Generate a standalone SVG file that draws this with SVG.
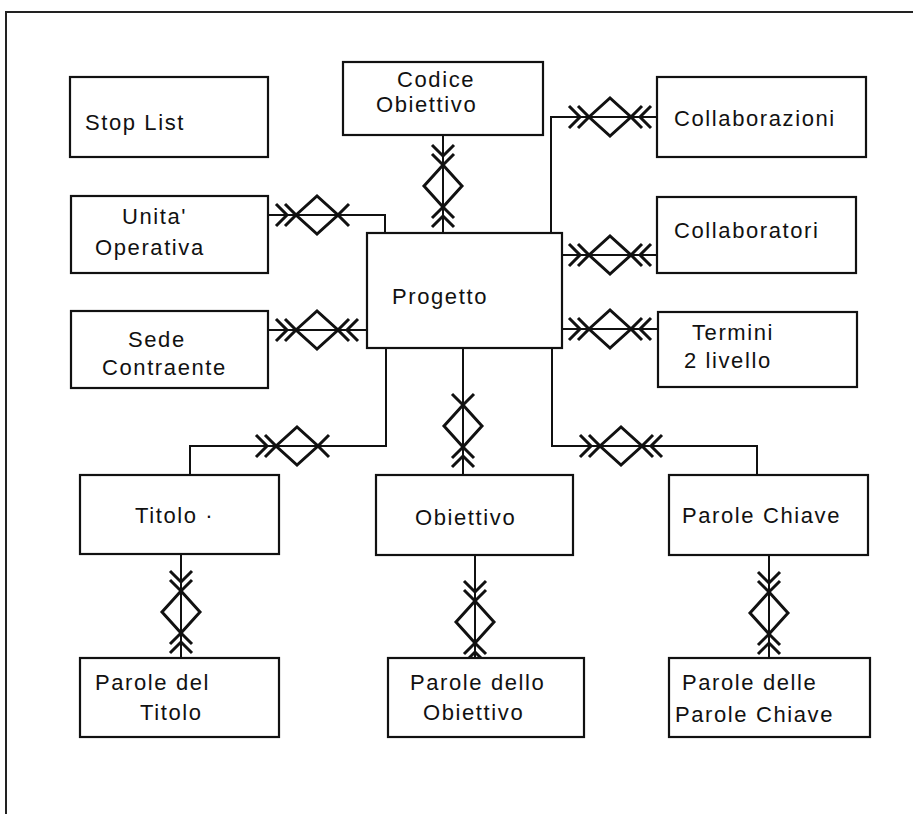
<svg xmlns="http://www.w3.org/2000/svg" xmlns:xlink="http://www.w3.org/1999/xlink" width="913" height="814" viewBox="0 0 913 814">
<style>
.box{fill:#fff;stroke:#111;stroke-width:2.2}
.t{font-family:"Liberation Sans",Arial,sans-serif;font-size:22px;letter-spacing:1.6px;fill:#111}
.ln{fill:none;stroke:#111;stroke-width:2}
.rel{fill:none;stroke:#111;stroke-width:3;stroke-linejoin:miter}
</style>
<defs>
<path id="dia" d="M-21,0 L0,-19 L21,0 L0,19 Z"/>
<path id="cL1" d="M-32,-11 L-21,0 L-32,11"/>
<path id="cL2" d="M-41,-11 L-30,0 L-41,11"/>
<path id="cR1" d="M32,-11 L21,0 L32,11"/>
<path id="cR2" d="M41,-11 L30,0 L41,11"/>
<g id="rDD" class="rel"><use xlink:href="#dia"/><use xlink:href="#cL1"/><use xlink:href="#cL2"/><use xlink:href="#cR1"/><use xlink:href="#cR2"/></g>
<g id="rDS" class="rel"><use xlink:href="#dia"/><use xlink:href="#cL1"/><use xlink:href="#cL2"/><use xlink:href="#cR1"/></g>
<g id="rSD" class="rel"><use xlink:href="#dia"/><use xlink:href="#cL1"/><use xlink:href="#cR1"/><use xlink:href="#cR2"/></g>
</defs>
<rect width="913" height="814" fill="#fff"/>
<path d="M6,814 V12 H913" fill="none" stroke="#222" stroke-width="2"/>

<g id="connectors">
<path class="ln" d="M443,135 V233"/>
<path class="ln" d="M268,215 H385 V233"/>
<path class="ln" d="M268,330 H367"/>
<path class="ln" d="M551,233 V117 H657"/>
<path class="ln" d="M562,255 H657"/>
<path class="ln" d="M562,329 H657"/>
<path class="ln" d="M386,348 V446 H190 V475"/>
<path class="ln" d="M463,348 V475"/>
<path class="ln" d="M552,348 V446 H757 V475"/>
<path class="ln" d="M181,554 V658"/>
<path class="ln" d="M475,555 V658"/>
<path class="ln" d="M769,555 V658"/>
<g fill="#fff">
<use xlink:href="#rDD" transform="translate(443,186) rotate(90)"/>
<use xlink:href="#rDS" transform="translate(317,215)"/>
<use xlink:href="#rDD" transform="translate(317,330)"/>
<use xlink:href="#rDD" transform="translate(610,117)"/>
<use xlink:href="#rDD" transform="translate(610,255)"/>
<use xlink:href="#rDD" transform="translate(610,329)"/>
<use xlink:href="#rDS" transform="translate(297,446)"/>
<use xlink:href="#rSD" transform="translate(463,426) rotate(90)"/>
<use xlink:href="#rDD" transform="translate(621,446)"/>
<use xlink:href="#rDD" transform="translate(181,612) rotate(90)"/>
<use xlink:href="#rDD" transform="translate(475,622) rotate(90)"/>
<use xlink:href="#rDD" transform="translate(769,613) rotate(90)"/>
</g>
</g>

<g id="stoplist"><rect class="box" x="70" y="77" width="198" height="80"/><text class="t" x="85" y="130">Stop List</text></g>
<g id="unita"><rect class="box" x="71" y="196" width="197" height="77"/><text class="t" x="122" y="224">Unita'</text><text class="t" x="95" y="255">Operativa</text></g>
<g id="sede"><rect class="box" x="71" y="311" width="197" height="77"/><text class="t" x="128" y="347">Sede</text><text class="t" x="102" y="375">Contraente</text></g>
<g id="codice"><rect class="box" x="343" y="62" width="200" height="73"/><text class="t" x="397" y="87">Codice</text><text class="t" x="376" y="112">Obiettivo</text></g>
<g id="progetto"><rect class="box" x="367" y="233" width="195" height="115"/><text class="t" x="392" y="304">Progetto</text></g>
<g id="collaborazioni"><rect class="box" x="657" y="77" width="209" height="80"/><text class="t" x="674" y="126">Collaborazioni</text></g>
<g id="collaboratori"><rect class="box" x="657" y="197" width="199" height="76"/><text class="t" x="674" y="238">Collaboratori</text></g>
<g id="termini"><rect class="box" x="658" y="312" width="199" height="75"/><text class="t" x="692" y="340">Termini</text><text class="t" x="684" y="368">2 livello</text></g>
<g id="titolo"><rect class="box" x="80" y="475" width="199" height="79"/><text class="t" x="135" y="523">Titolo ·</text></g>
<g id="obiettivo"><rect class="box" x="376" y="475" width="197" height="80"/><text class="t" x="415" y="525">Obiettivo</text></g>
<g id="parolechiave"><rect class="box" x="669" y="475" width="199" height="80"/><text class="t" x="682" y="523">Parole Chiave</text></g>
<g id="paroletitolo"><rect class="box" x="80" y="658" width="199" height="79"/><text class="t" x="95" y="690">Parole del</text><text class="t" x="140" y="720">Titolo</text></g>
<g id="paroleobiettivo"><rect class="box" x="388" y="658" width="196" height="79"/><text class="t" x="410" y="690">Parole dello</text><text class="t" x="423" y="720">Obiettivo</text></g>
<g id="parolepc"><rect class="box" x="669" y="658" width="201" height="79"/><text class="t" x="682" y="690">Parole delle</text><text class="t" x="675" y="722">Parole Chiave</text></g>
</svg>
